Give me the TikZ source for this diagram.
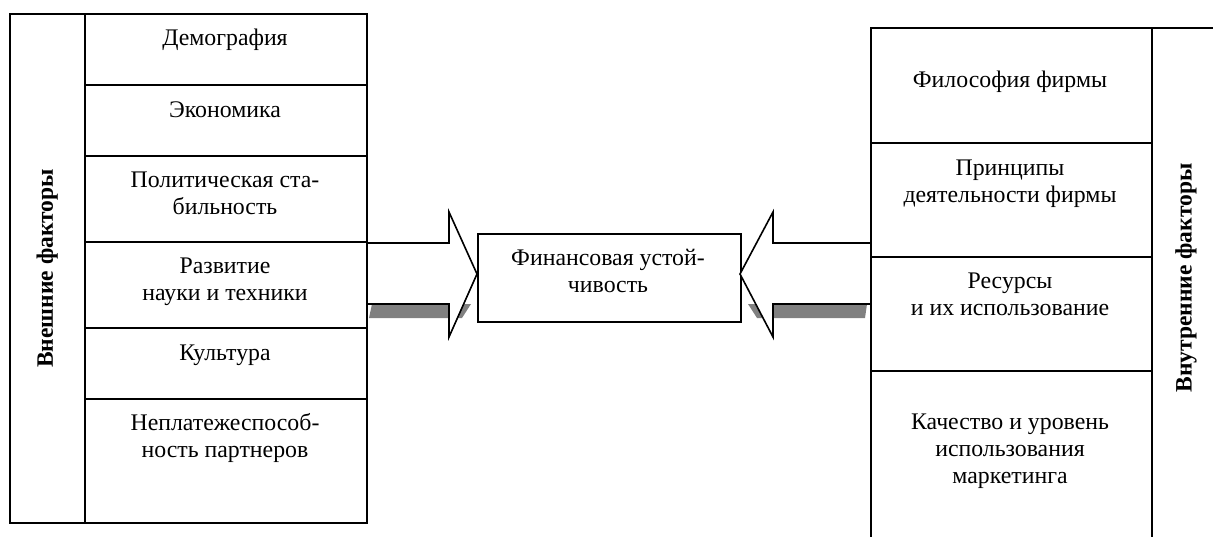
\documentclass[tikz,border=0pt]{standalone}
\usepackage{fontspec}
\setmainfont{Liberation Serif}
\begin{document}
\begin{tikzpicture}[x=1pt,y=-1pt,
  cell/.style={draw, line width=1.6pt, inner sep=0pt, anchor=north west},
  txt/.style={font=\fontsize{23.8}{27}\selectfont, align=center, inner sep=0pt, anchor=base},
  side/.style={font=\fontsize{23.5}{27}\selectfont\bfseries, rotate=90, inner sep=0pt},
  blockarrow/.style={draw, fill=white, line width=1.6pt, line join=miter},
  shade/.style={fill=black!50}]
\useasboundingbox (0,0) rectangle (1213,536);
\clip (0,0) rectangle (1213,536);

% shadows of the block arrows
\fill[shade] (372,304) -- (471,304) -- (462,318) -- (369,318) -- cycle;
\fill[shade] (748,304) -- (867,304) -- (865,318) -- (757,318) -- cycle;

% central box
\node[cell, minimum width=263pt, minimum height=88pt] (fin) at (477,233) {};
\node[txt] (fintxt) at (608,292) {Финансовая устой-\\чивость};

% block arrows
\coordinate (ltip) at (477,274);
\coordinate (rtip) at (740,274);
\draw[blockarrow] (366,243) -- (449,243) -- (449,212) -- (ltip) -- (449,337) -- (449,304) -- (366,304);
\draw[blockarrow] (870,243) -- (773,243) -- (773,212) -- (rtip) -- (773,337) -- (773,304) -- (870,304);

% left panel
\node[cell, minimum width=75pt, minimum height=509pt] (lcol) at (9,13) {};
\node[side] (llab) at (lcol.center) {Внешние факторы};
\node[cell, minimum width=282pt, minimum height=71pt] (l1) at (84,13) {};
\node[cell, minimum width=282pt, minimum height=71pt] (l2) at (84,84) {};
\node[cell, minimum width=282pt, minimum height=86pt] (l3) at (84,155) {};
\node[cell, minimum width=282pt, minimum height=86pt] (l4) at (84,241) {};
\node[cell, minimum width=282pt, minimum height=71pt] (l5) at (84,327) {};
\node[cell, minimum width=282pt, minimum height=124pt] (l6) at (84,398) {};
\node[txt] (t1) at (225,45) {Демография};
\node[txt] (t2) at (225,117) {Экономика};
\node[txt] (t3) at (225,214) {Политическая ста-\\бильность};
\node[txt] (t4) at (225,300) {Развитие\\науки и техники};
\node[txt] (t5) at (225,360) {Культура};
\node[txt] (t6) at (225,457) {Неплатежеспособ-\\ность партнеров};

% right panel
\node[cell, minimum width=281pt, minimum height=115pt] (r1) at (870,27) {};
\node[cell, minimum width=281pt, minimum height=114pt] (r2) at (870,142) {};
\node[cell, minimum width=281pt, minimum height=114pt] (r3) at (870,256) {};
\node[cell, minimum width=281pt, minimum height=200pt] (r4) at (870,370) {};
\node[cell, minimum width=100pt, minimum height=560pt] (rcol) at (1151,27) {};
\node[side] (rlab) at (1186,278) {Внутренние факторы};
\node[txt] (s1) at (1010,87) {Философия фирмы};
\node[txt] (s2) at (1010,202) {Принципы\\деятельности фирмы};
\node[txt] (s3) at (1010,315) {Ресурсы\\и их использование};
\node[txt] (s4) at (1010,483) {Качество и уровень\\использования\\маркетинга};
\end{tikzpicture}
\end{document}
